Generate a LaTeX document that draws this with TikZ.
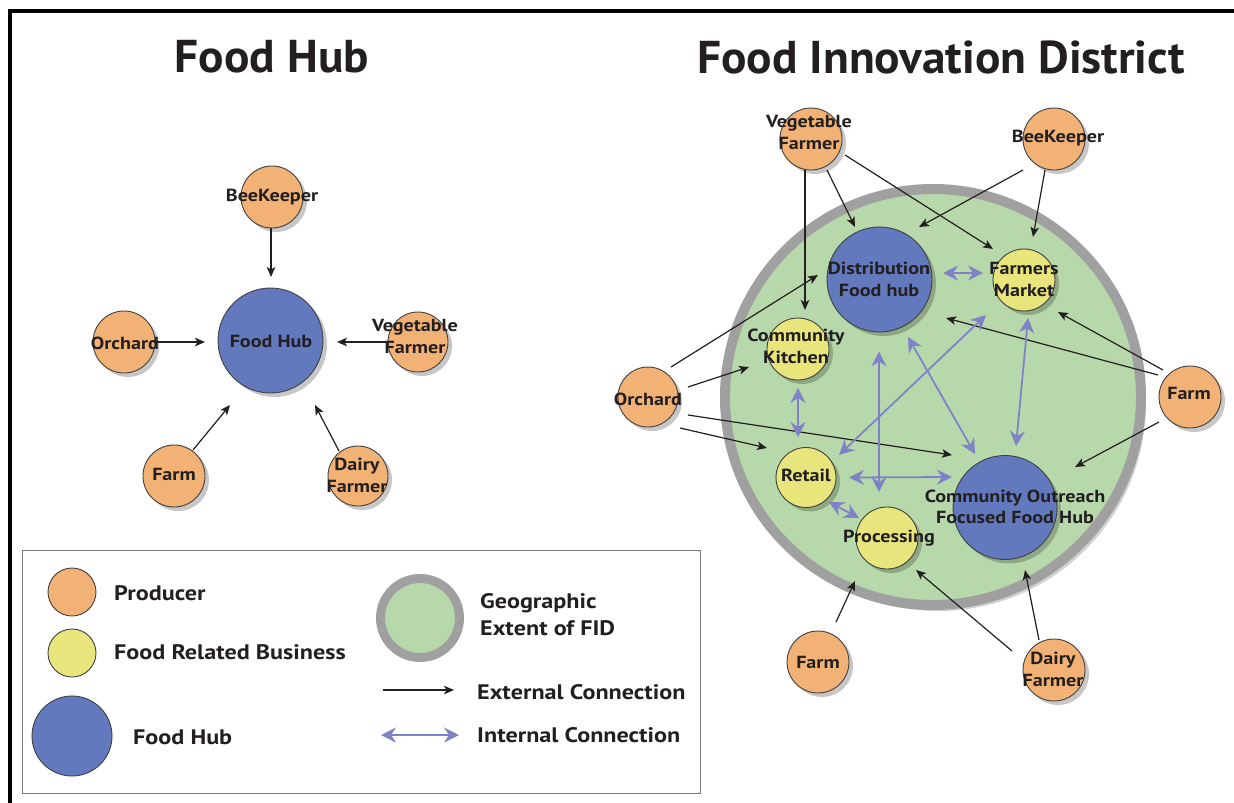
\documentclass[tikz,border=0pt]{standalone}
\usepackage{fontspec}
\setmainfont{PT Sans}
\newfontfamily\lblfont{PT Sans}[FakeStretch=1.15]
\newfontfamily\ttlfont{PT Sans}[FakeStretch=1.03]
\usetikzlibrary{arrows.meta,shadows,calc}
\definecolor{prodc}{RGB}{243,178,117}
\definecolor{bizc}{RGB}{232,229,125}
\definecolor{hubc}{RGB}{98,121,189}
\definecolor{greenc}{RGB}{182,216,170}
\definecolor{ringc}{RGB}{160,160,160}
\definecolor{intc}{RGB}{128,130,200}
\definecolor{txt}{RGB}{35,31,32}
\definecolor{boxc}{RGB}{120,120,120}
\begin{document}
\begin{tikzpicture}[x=1pt,y=-1pt,
  shd/.style={drop shadow={shadow xshift=4pt,shadow yshift=-4pt,opacity=0.22,fill=black}},
  circ/.style={circle,draw=black!75,line width=0.9pt,inner sep=0pt},
  prod/.style={circ,fill=prodc,minimum size=62pt,shd},
  biz/.style={circ,fill=bizc,minimum size=62pt,shd},
  hubst/.style={circ,fill=hubc,minimum size=105pt,shd},
  lab/.style={font=\lblfont\fontsize{17.5}{22}\selectfont\bfseries,text=txt,align=center,inner sep=0pt},
  leg/.style={font=\lblfont\fontsize{21}{27}\selectfont\bfseries,text=txt,align=left,inner sep=0pt,anchor=west},
  ttl/.style={font=\ttlfont\fontsize{46}{50}\selectfont\bfseries,text=txt,inner sep=0pt},
  ext/.style={draw=txt,line width=1.2pt,-{Stealth[length=10pt,width=8.5pt,inset=2.5pt]}},
  int/.style={draw=intc,line width=1.8pt,{Stealth[length=15pt,width=15pt,inset=5pt]}-{Stealth[length=15pt,width=15pt,inset=5pt]}}
]
\useasboundingbox (0,0) rectangle (1234,803);
\fill[white] (0,0) rectangle (1234,803);
% frame
\draw[line width=4.5pt,black] (10,803) -- (10,11) -- (1234,11);

% titles
\node[ttl] (t1) at (272,57) {Food Hub};
\node[ttl] (t2) at (941,57) {Food Innovation District};

% ---------- left panel ----------
\node[prod] (bk1) at (272,197) {};
\node[hubst] (hub1) at (270.5,340.5) {};
\node[prod] (orch1) at (124,342) {};
\node[prod,minimum size=60pt] (veg1) at (418,342) {};
\node[prod] (farm1) at (174,476) {};
\node[prod,minimum size=60pt] (dairy1) at (358,476) {};
\node[lab] (bk1t) at (272,197) {BeeKeeper};
\node[lab] (hub1t) at (271,341) {Food Hub};
\node[lab] (orch1t) at (125,343) {Orchard};
\node[lab] (veg1t) at (415,336) {Vegetable\\Farmer};
\node[lab] (farm1t) at (174,474) {Farm};
\node[lab] (dairy1t) at (357,475) {Dairy\\Farmer};

\draw[ext] ($(bk1)+(-1,31)$) -- ($(hub1)+(0.5,-63.5)$);
\draw[ext] ($(orch1)+(30,0)$) -- ($(hub1)+(-65.5,1.5)$);
\draw[ext] ($(veg1)+(-30,0)$) -- ($(hub1)+(66.5,1.5)$);
\draw[ext] ($(farm1)+(19,-26)$) -- ($(hub1)+(-40.5,64.5)$);
\draw[ext] ($(dairy1)+(-19,-25)$) -- ($(hub1)+(44.5,64.5)$);

% ---------- right panel ----------
\node[circle,draw=ringc,line width=10pt,fill=greenc,minimum size=416pt,inner sep=0pt,
  drop shadow={shadow xshift=5pt,shadow yshift=-6pt,opacity=0.18,fill=black}] (fid) at (933,397) {};

\node[prod] (veg2) at (811,139) {};
\node[prod] (bk2) at (1054,139) {};
\node[hubst] (dist) at (879.5,279.5) {};
\node[biz] (fm) at (1024,280) {};
\node[biz] (ck) at (798,349) {};
\node[prod,minimum size=60pt] (orch2) at (648,397) {};
\node[prod] (farm2) at (1190,397) {};
\node[biz,minimum size=60pt] (retail) at (806,477.5) {};
\node[biz] (proc) at (887,538) {};
\node[hubst,minimum size=104pt] (cofh) at (1005,507.5) {};
\node[prod] (farm3) at (818,662) {};
\node[prod] (dairy2) at (1054,670) {};

\node[lab] (veg2t) at (809,132) {Vegetable\\Farmer};
\node[lab] (bk2t) at (1058,138) {BeeKeeper};
\node[lab] (distt) at (879,279) {Distribution\\Food hub};
\node[lab] (fmt) at (1024,279) {Farmers\\Market};
\node[lab] (ckt) at (796,346) {Community\\Kitchen};
\node[lab] (orch2t) at (648,399) {Orchard};
\node[lab] (farm2t) at (1189,393) {Farm};
\node[lab] (retailt) at (806,475) {Retail};
\node[lab] (proct) at (889,538) {Processing};
\node[lab,font=\lblfont\fontsize{17.5}{21}\selectfont\bfseries] (cofht) at (1015,507) {Community Outreach\\Focused Food Hub};
\node[lab] (farm3t) at (818,662) {Farm};
\node[lab] (dairy2t) at (1053,669) {Dairy\\Farmer};

% external connections
\draw[ext] ($(veg2)+(-6,31)$) -- ($(ck)+(7,-39)$);
\draw[ext] ($(veg2)+(16,31)$) -- ($(dist)+(-24.5,-52.5)$);
\draw[ext] ($(veg2)+(34,16)$) -- ($(fm)+(-31,-31)$);
\draw[ext] ($(bk2)+(-31,31)$) -- ($(dist)+(39.5,-52.5)$);
\draw[ext] ($(bk2)+(-9,31)$) -- ($(fm)+(9,-43)$);
\draw[ext] ($(orch2)+(23,-30)$) -- ($(dist)+(-61.5,-4.5)$);
\draw[ext] ($(orch2)+(40,-10)$) -- ($(ck)+(-49,18)$);
\draw[ext] ($(orch2)+(32,31)$) -- ($(retail)+(-39,-29.5)$);
\draw[ext] ($(orch2)+(40,18)$) -- ($(cofh)+(-53,-52.5)$);
\draw[ext] ($(farm2)+(-32,-22)$) -- ($(dist)+(66.5,38.5)$);
\draw[ext] ($(farm2)+(-27,-27)$) -- ($(fm)+(34,32)$);
\draw[ext] ($(farm2)+(-31,25)$) -- ($(cofh)+(70,-40.5)$);
\draw[ext] ($(farm3)+(18,-40)$) -- ($(fid)+(-78,184)$);
\draw[ext] ($(dairy2)+(-42,-19)$) -- ($(proc)+(29,32)$);
\draw[ext] ($(dairy2)+(-15,-30)$) -- ($(cofh)+(20,62.5)$);

% internal connections
\draw[int] ($(dist)+(63.5,-6.5)$) -- ($(fm)+(-41,-7)$);
\draw[int] ($(ck)+(0,39)$) -- ($(retail)+(-8,-40.5)$);
\draw[int] ($(retail)+(23,24.5)$) -- ($(proc)+(-28,-20)$);
\draw[int] ($(retail)+(33,-22.5)$) -- ($(fm)+(-38,35)$);
\draw[int] ($(dist)+(-0.5,72)$) -- ($(proc)+(-8,-46)$);
\draw[int] ($(retail)+(43,0)$) -- ($(cofh)+(-53,-30.5)$);
\draw[int] ($(dist)+(28.5,57.5)$) -- ($(cofh)+(-30,-53.5)$);
\draw[int] ($(fm)+(4,38)$) -- ($(cofh)+(11,-61.5)$);

% ---------- legend ----------
\node[draw=boxc,line width=0.8pt,minimum width=678pt,minimum height=243pt,inner sep=0pt] (legbox) at (361,671.5) {};
\node[circ,fill=prodc,minimum size=48pt] (lprod) at (72,592) {};
\node[circ,fill=bizc,minimum size=48pt] (lbiz) at (72,653) {};
\node[circ,fill=hubc,minimum size=80pt] (lhub) at (72,736) {};
\node[circle,draw=ringc,line width=9pt,fill=greenc,minimum size=79pt,inner sep=0pt] (lgeo) at (420,618) {};
\node[leg] (lprodt) at (114,593) {Producer};
\node[leg] (lbizt) at (114,652) {Food Related Business};
\node[leg] (lhubt) at (133,737) {Food Hub};
\node[leg] (lgeot) at (480,615) {Geographic\\Extent of FID};
\node[leg] (lextt) at (477,692) {External Connection};
\node[leg] (lintt) at (477,735) {Internal Connection};
\coordinate (ea) at (383,690);
\coordinate (eb) at (454,690);
\coordinate (ia) at (381,735);
\coordinate (ib) at (459,735);
\draw[ext] (ea) -- (eb);
\draw[int] (ia) -- (ib);
\end{tikzpicture}
\end{document}
